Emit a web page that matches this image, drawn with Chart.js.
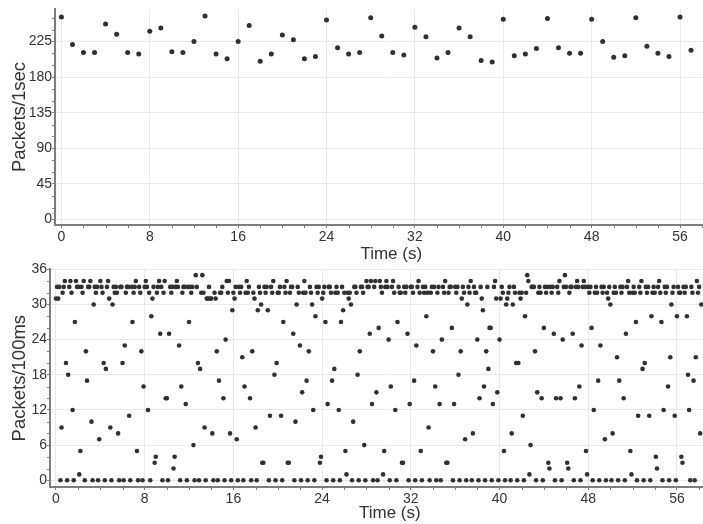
<!DOCTYPE html>
<html><head><meta charset="utf-8">
<script src="https://cdn.jsdelivr.net/npm/chart.js@4"></script>
<style>
html,body{margin:0;padding:0;background:#fff;overflow:hidden;width:703px;height:524px;}
#c1{position:absolute;left:0;top:0;}
#c2{position:absolute;left:0;top:258px;}
</style></head><body>
<canvas id="c1" width="730" height="265" style="width:730px;height:265px"></canvas>
<canvas id="c2" width="732" height="266" style="width:732px;height:266px"></canvas>
<script>
// ---- data ----
const packetsPerSecond = [256,221,211,211,247,234,211,209,238,242,212,211,225,257,209,203,225,245,200,209,
  233,227,203,206,252,217,209,211,255,232,211,208,243,231,204,211,242,231,201,199,
  253,207,209,216,254,217,210,210,253,225,205,207,255,219,210,206,256,214];
const binSeconds = 0.1;
const packetsPer100ms = [
  31,33,31,33,0,9,32,33,34,20,
  0,18,33,34,32,12,0,27,34,33,
  33,1,5,33,32,34,0,22,17,33,
  33,34,10,0,30,33,32,33,0,7,
  34,33,32,20,0,19,33,34,31,9,
  0,30,33,32,33,32,8,0,33,33,
  20,0,23,32,33,33,11,0,33,27,
  32,33,34,5,0,33,32,22,0,16,
  33,34,33,12,32,0,28,31,33,3,
  4,32,33,34,25,33,0,32,34,14,
  14,0,25,33,32,33,2,4,33,34,
  33,23,0,16,32,33,33,13,0,33,
  27,33,32,33,6,0,35,33,20,0,
  19,32,35,32,9,0,31,31,33,31,
  31,8,0,32,31,22,0,17,32,32,
  33,14,0,24,34,32,34,8,0,29,
  32,31,33,7,0,33,32,33,21,0,
  16,32,34,32,33,14,0,22,32,31,
  9,0,29,33,32,30,3,3,33,32,
  33,29,0,11,33,32,34,18,0,20,
  32,32,33,11,0,27,33,32,34,3,
  3,32,33,33,25,0,10,30,33,32,
  23,0,15,32,34,32,17,0,22,33,
  32,30,12,0,28,33,32,33,3,4,
  31,32,33,27,0,13,33,33,32,17,
  0,19,32,33,32,12,0,27,33,29,
  32,5,1,32,31,32,30,0,10,33,
  33,32,18,0,22,33,33,32,6,0,
  34,33,33,25,34,13,0,33,34,15,
  0,26,34,33,32,1,5,33,34,33,
  24,0,16,33,34,32,12,0,27,33,
  32,32,3,3,33,32,33,25,0,13,
  33,33,32,17,0,23,33,34,32,5,
  0,33,32,33,28,32,9,0,32,33,
  22,33,16,0,32,33,13,0,24,33,
  32,34,3,3,32,33,33,26,0,13,
  33,32,33,18,0,22,31,33,32,7,
  0,30,33,32,34,0,8,33,32,32,
  24,0,14,33,31,29,16,0,22,33,
  19,26,26,0,13,33,34,31,15,0,
  24,31,33,32,5,0,30,31,32,33,
  0,8,30,33,32,20,0,20,32,31,
  32,11,0,28,32,35,34,1,6,33,
  33,33,22,0,15,32,33,32,14,0,
  26,33,32,33,3,2,33,32,33,25,
  0,14,33,32,34,14,0,24,33,35,
  33,3,2,32,33,33,25,0,14,33,
  34,33,16,0,23,33,34,33,5,1,
  33,32,33,26,0,12,32,33,32,17,
  0,23,33,32,33,7,0,32,31,33,
  30,0,8,32,33,32,21,0,17,33,
  32,33,14,0,25,33,34,32,5,1,
  32,33,32,27,0,11,33,32,34,19,
  0,20,33,32,33,11,0,28,32,33,
  32,4,2,33,34,32,27,0,12,33,
  32,33,16,0,21,30,32,33,11,0,
  28,33,32,32,4,3,33,32,33,28,
  18,12,0,33,32,17,0,21,34,32,
  33,8,30
];
const xTickStep = 8;
const yTickStepTop = 45;
const yTickStepBottom = 6;

// ---- styling ----
const FONT = "'Liberation Sans', Arial, sans-serif";
const TXT = '#333';
const GRID = '#e9e9e9';
const AXIS = '#7d7d7d';
const DOT = '#303030';

const minorTicks = {
  id: 'minorTicks',
  afterDraw(chart, args, opts) {
    const {ctx, chartArea, scales: {x, y}} = chart;
    ctx.save();
    ctx.strokeStyle = AXIS; ctx.lineWidth = 1;
    ctx.beginPath();
    for (let v = 2; v <= x.max; v += 2) {
      if (v % xTickStep === 0) continue;
      const px = Math.round(x.getPixelForValue(v)) + 0.5;
      ctx.moveTo(px, chartArea.bottom + 1); ctx.lineTo(px, chartArea.bottom + 3);
    }
    for (let v = opts.yMinor; v <= y.max; v += opts.yMinor) {
      if (v % opts.yMajor === 0) continue;
      const py = Math.round(y.getPixelForValue(v)) + 0.5;
      ctx.moveTo(chartArea.left - 1, py); ctx.lineTo(chartArea.left - 3, py);
    }
    ctx.stroke();
    ctx.restore();
  }
};

function makeChart(id, points, cfg) {
  return new Chart(document.getElementById(id), {
    type: 'scatter',
    data: { datasets: [{ data: points, backgroundColor: DOT, borderWidth: 0,
      pointRadius: cfg.r, pointHoverRadius: cfg.r }] },
    plugins: [minorTicks],
    options: {
      responsive: false, animation: false, devicePixelRatio: 1,
      layout: { padding: { top: cfg.top, left: 0, right: 0, bottom: 0 } },
      plugins: { legend: { display: false }, tooltip: { enabled: false },
        minorTicks: { yMinor: cfg.yMinor, yMajor: cfg.yStep } },
      scales: {
        x: {
          type: 'linear', min: cfg.xmin, max: cfg.xmax,
          afterFit: s => { s.height = cfg.xh; },
          grid: { color: GRID, tickColor: AXIS, tickLength: 3, lineWidth: 1 },
          border: { color: AXIS, width: 2 },
          ticks: { stepSize: xTickStep, includeBounds: false, color: TXT, padding: 1,
            font: { family: FONT, size: 14 }, maxRotation: 0 },
          title: { display: true, text: 'Time (s)', color: TXT, padding: { top: 0, bottom: 0 },
            font: { family: FONT, size: 17 } }
        },
        y: {
          type: 'linear', min: cfg.ymin, max: cfg.ymax,
          afterFit: s => { s.width = cfg.yw; },
          grid: { color: GRID, tickColor: AXIS, tickLength: 3, lineWidth: 1 },
          border: { color: AXIS, width: 2 },
          ticks: { stepSize: cfg.yStep, includeBounds: false, color: TXT, padding: 0,
            font: { family: FONT, size: 14 } },
          title: { display: true, text: cfg.ytitle, color: TXT, padding: { top: 9, bottom: 0 },
            font: { family: FONT, size: 18.5 } }
        }
      }
    }
  });
}

const topPoints = packetsPerSecond.map((v, i) => ({ x: i, y: v }));
const bottomPoints = packetsPer100ms.map((v, i) => ({ x: Math.round(i * binSeconds * 10) / 10, y: v }));

makeChart('c1', topPoints, { r: 2.5, top: 9, xmin: -0.58, xmax: 60.3, ymin: -7, ymax: 266,
  yStep: yTickStepTop, yMinor: 15, xh: 40, yw: 55, ytitle: 'Packets/1sec' });
makeChart('c2', bottomPoints, { r: 2.3, top: 11.3, xmin: -0.54, xmax: 60.76, ymin: -1.15, ymax: 36,
  yStep: yTickStepBottom, yMinor: 2, xh: 37, yw: 50, ytitle: 'Packets/100ms' });
</script>
</body></html>
